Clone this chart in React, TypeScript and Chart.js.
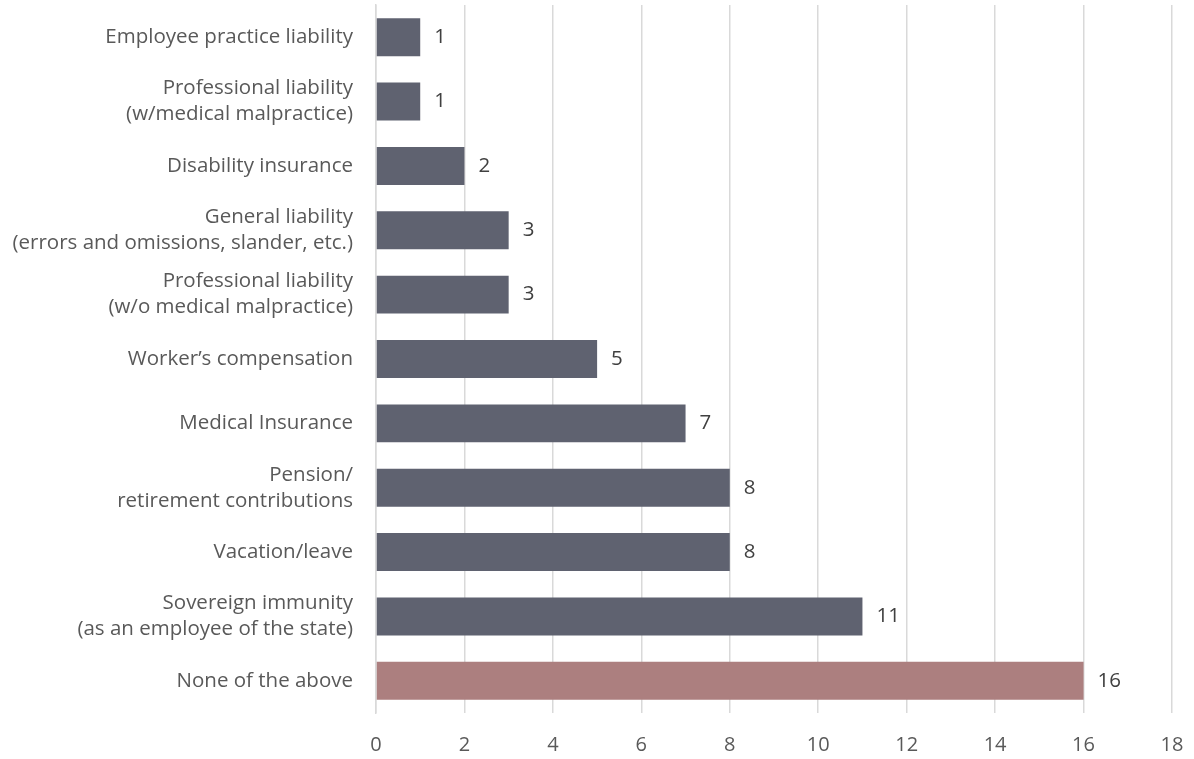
import React, { useEffect, useRef } from "react";
import { Chart, registerables } from "chart.js";

Chart.register(...registerables);

const categories: (string | string[])[] = [
  "Employee practice liability",
  ["Professional liability", "(w/medical malpractice)"],
  "Disability insurance",
  ["General liability", "(errors and omissions, slander, etc.)"],
  ["Professional liability", "(w/o medical malpractice)"],
  "Worker’s compensation",
  "Medical Insurance",
  ["Pension/", "retirement contributions"],
  "Vacation/leave",
  ["Sovereign immunity", "(as an employee of the state)"],
  "None of the above",
];
const values: number[] = [1, 1, 2, 3, 3, 5, 7, 8, 8, 11, 16];
const barColors: string[] = [
  "#5F6270", "#5F6270", "#5F6270", "#5F6270", "#5F6270", "#5F6270",
  "#5F6270", "#5F6270", "#5F6270", "#5F6270", "#AC7F7F",
];
const xMin = 0;
const xMax = 18;
const xStep = 2;

const FONT = "'Open Sans', sans-serif";
const TEXT = "#595959";

const valueLabels = {
  id: "valueLabels",
  afterDatasetsDraw(chart: any) {
    const ctx = chart.ctx;
    const meta = chart.getDatasetMeta(0);
    ctx.save();
    ctx.font = `20.5px ${FONT}`;
    ctx.fillStyle = "#404040";
    ctx.textAlign = "left";
    ctx.textBaseline = "middle";
    meta.data.forEach((bar: any, i: number) => {
      ctx.fillText(String(values[i]), bar.x + 14, bar.y);
    });
    ctx.restore();
  },
};

export default function App() {
  const ref = useRef<HTMLCanvasElement | null>(null);
  useEffect(() => {
    if (!ref.current) return;
    const chart = new Chart(ref.current, {
      type: "bar",
      data: {
        labels: categories,
        datasets: [
          {
            data: values,
            backgroundColor: barColors,
            barPercentage: 0.59,
            categoryPercentage: 1,
          },
        ],
      },
      options: {
        indexAxis: "y",
        animation: false,
        responsive: true,
        maintainAspectRatio: false,
        layout: { padding: { top: 5, right: 22, left: 0, bottom: 0 } },
        plugins: { legend: { display: false }, tooltip: { enabled: false } },
        scales: {
          x: {
            min: xMin,
            max: xMax,
            ticks: {
              stepSize: xStep,
              color: TEXT,
              font: { family: FONT, size: 20 },
              padding: 20,
            },
            grid: { color: "#D9D9D9", lineWidth: 1.5, drawTicks: false },
            border: { display: false },
            afterFit: (s: any) => {
              s.height = 46;
              s.paddingLeft = 0;
              s.paddingRight = 0;
            },
          },
          y: {
            ticks: {
              color: TEXT,
              font: { family: FONT, size: 20.5, lineHeight: 1.27 },
              padding: 23,
              autoSkip: false,
            },
            grid: { display: false, drawTicks: false },
            border: { display: true, color: "#D9D9D9", width: 1.5 },
            afterFit: (s: any) => {
              s.width = 376;
              s.paddingTop = 0;
              s.paddingBottom = 0;
            },
          },
        },
      },
      plugins: [valueLabels],
    });
    return () => chart.destroy();
  }, []);
  return (
    <div style={{ position: "fixed", left: 0, top: 0, width: 1194, height: 759, background: "#fff" }}>
      <canvas ref={ref} />
    </div>
  );
}
